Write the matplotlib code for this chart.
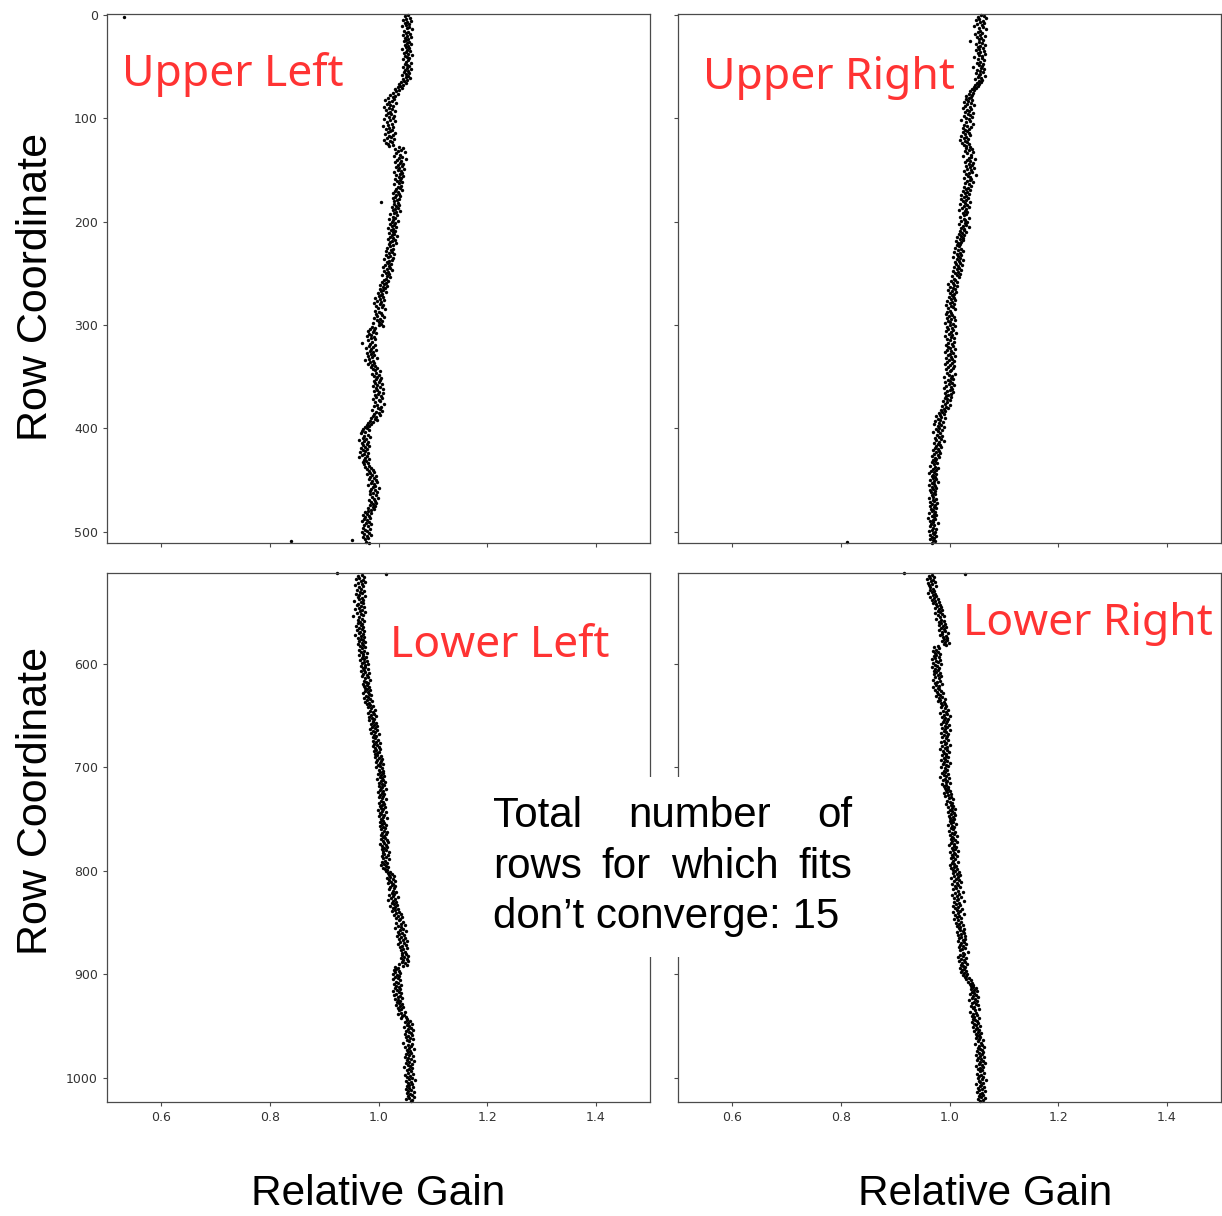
import numpy as np
import matplotlib.pyplot as plt
from matplotlib.patches import Rectangle

# Relative gain per row, stored as (gain - 1) * 1000, one value per row
ul_gain_milli = [
    55, 49, -468, 58, 51, 46, 60, 53, 48, 56, 50, 44, 57, 52, 61, 47,
    54, 50, 58, 45, 53, 59, 49, 55, 51, 47, 57, 52, 60, 48, 54, 50,
    56, 44, 53, 58, 50, 47, 55, 61, 49, 52, 57, 46, 54, 51, 59, 48,
    53, 56, 45, 52, 60, 49, 54, 47, 57, 51, 43, 55, 50, 58, 46, 52,
    47, 42, 50, 38, 45, 40, 35, 44, 30, 38, 33, 27, 36, 22, 31, 26,
    18, 29, 12, 24, 20, 33, 15, 22, 27, 10, 19, 25, 14, 30, 21, 17,
    23, 13, 28, 19, 26, 11, 21, 31, 16, 24, 18, 9, 27, 20, 14, 25,
    22, 17, 30, 12, 26, 19, 23, 15, 28, 10, 21, 24, 13, 18, 27, 20,
    38, 45, 31, 42, 36, 48, 33, 40, 29, 44, 37, 50, 34, 41, 30, 39,
    46, 35, 43, 32, 38, 47, 36, 41, 28, 44, 39, 33, 45, 37, 42, 31,
    40, 34, 43, 37, 29, 41, 35, 39, 32, 44, 30, 36, 27, 38, 33, 40,
    31, 26, 37, 34, 29, 4, 35, 28, 38, 32, 25, 36, 30, 27, 39, 33,
    28, 22, 34, 26, 31, 19, 27, 35, 24, 30, 21, 29, 25, 33, 18, 27,
    23, 31, 26, 20, 29, 24, 34, 21, 27, 17, 30, 25, 22, 32, 19, 26,
    21, 16, 27, 23, 13, 25, 19, 29, 14, 22, 18, 26, 11, 24, 20, 15,
    17, 23, 12, 19, 9, 21, 15, 25, 11, 18, 14, 20, 7, 16, 22, 13,
    10, 18, 6, 14, 11, 3, 16, 8, 12, 2, 9, 5, 13, -1, 7, 4,
    0, 8, -6, 3, 11, -3, 5, -9, 2, 9, -4, 6, -1, 12, -7, 1,
    4, -5, 7, -2, 10, -8, 3, -3, 6, 0, -10, 5, 1, 8, -12, -6,
    -15, -8, -20, -11, -4, -17, -13, -22, -9, -14, -6, -19, -12, -30, -16, -7,
    -18, -11, -23, -14, -5, -16, -10, -21, -13, -8, -19, -12, -3, -17, -24, -11,
    -15, -9, -20, -12, -6, -14, -2, -10, -7, 2, -5, -12, 1, -8, -3, 5,
    -4, 3, -9, 0, -6, 6, -2, -11, 2, -5, 8, -3, -8, 1, 9, -1,
    -7, 4, -4, 7, -10, 0, 3, -6, 10, -2, -9, 5, -1, 2, -12, 6,
    -5, 1, -8, 3, -11, -4, -14, -7, -2, -16, -10, -19, -13, -22, -17, -25,
    -21, -28, -18, -30, -24, -33, -20, -27, -15, -29, -23, -35, -26, -19, -31, -22,
    -28, -17, -25, -32, -21, -29, -24, -34, -19, -26, -30, -22, -36, -25, -18, -27,
    -23, -29, -20, -26, -17, -24, -14, -21, -11, -18, -8, -15, -22, -12, -5, -16,
    -9, -17, -4, -12, -2, -14, -8, -19, -6, -11, 0, -13, -7, -16, -3, -10,
    -15, -5, -12, -1, -9, -18, -7, -13, -4, -10, -16, -6, -11, -20, -8, -14,
    -19, -25, -13, -22, -28, -17, -24, -15, -27, -21, -31, -18, -23, -14, -26, -20,
    -29, -16, -24, -21, -30, -18, -26, -13, -22, -28, -19, -25, -48, -162, -23, -17,
]
ur_gain_milli = [
    58, 63, 52, 67, 55, 49, 61, 57, 64, 51, 59, 45, 62, 54, 68, 56,
    53, 60, 47, 57, 65, 50, 58, 55, 62, 38, 54, 59, 49, 66, 56, 52,
    61, 55, 48, 63, 57, 52, 66, 54, 59, 46, 60, 53, 64, 57, 50, 62,
    55, 59, 44, 58, 63, 51, 56, 61, 49, 57, 54, 65, 52, 58, 47, 60,
    54, 58, 50, 55, 47, 52, 45, 49, 41, 46, 38, 44, 35, 42, 31, 39,
    36, 30, 42, 34, 27, 39, 33, 45, 29, 37, 24, 40, 32, 36, 28, 43,
    34, 38, 26, 41, 31, 35, 22, 37, 30, 44, 27, 33, 39, 25, 36, 29,
    32, 24, 35, 28, 38, 21, 31, 26, 34, 19, 29, 33, 23, 36, 27, 30,
    37, 31, 42, 35, 28, 44, 33, 39, 25, 40, 36, 47, 32, 38, 29, 43,
    35, 41, 30, 37, 45, 33, 39, 27, 42, 36, 31, 48, 34, 38, 26, 40,
    37, 32, 43, 29, 35, 40, 27, 34, 31, 38, 24, 33, 29, 36, 22, 30,
    27, 34, 21, 31, 25, 38, 28, 19, 32, 26, 35, 23, 30, 17, 29, 33,
    24, 31, 27, 20, 36, 26, 29, 22, 33, 28, 18, 30, 25, 35, 21, 27,
    26, 20, 30, 23, 17, 27, 21, 14, 25, 19, 24, 12, 22, 16, 20, 13,
    18, 11, 22, 15, 24, 9, 19, 13, 21, 16, 7, 20, 14, 25, 17, 10,
    19, 12, 23, 15, 8, 18, 13, 21, 6, 16, 11, 20, 14, 4, 17, 9,
    10, 3, 13, 6, -2, 9, 14, 1, 7, 11, -3, 5, 12, 0, 8, 4,
    6, -1, 9, 2, 11, -4, 5, 0, 8, -6, 3, 7, -2, 10, 1, -5,
    2, -7, 5, -1, 8, -4, 3, 10, -3, 1, -8, 6, 0, 11, -5, 4,
    -2, 7, -6, 3, 12, -1, 5, -9, 2, 8, -4, 0, 9, -3, 4, -7,
    6, -2, 1, 10, -5, 3, -8, 7, 0, -3, 11, 2, -6, 5, -1, 8,
    -4, 4, -9, 1, 9, -2, 6, -7, 3, 0, -5, 10, -1, 4, -10, 2,
    7, -3, 1, -8, 5, -1, 9, -6, 2, -11, 4, 0, -4, 6, -9, 3,
    -2, -6, 2, -9, -4, 1, -12, -5, -8, 0, -14, -7, -3, -11, -16, -9,
    -13, -20, -10, -17, -24, -15, -8, -21, -18, -26, -12, -19, -28, -16, -22, -11,
    -19, -25, -14, -21, -30, -17, -23, -13, -20, -27, -16, -24, -11, -19, -29, -22,
    -18, -24, -15, -26, -21, -31, -19, -25, -17, -28, -22, -33, -20, -27, -24, -30,
    -26, -32, -23, -29, -36, -27, -21, -31, -25, -34, -28, -38, -24, -30, -33, -27,
    -31, -25, -35, -28, -22, -33, -29, -37, -26, -32, -24, -30, -36, -27, -34, -29,
    -26, -33, -30, -38, -24, -31, -28, -35, -23, -32, -27, -36, -29, -25, -34, -30,
    -33, -27, -37, -29, -24, -32, -28, -39, -26, -31, -35, -30, -22, -34, -28, -36,
    -30, -25, -33, -38, -27, -31, -29, -36, -24, -32, -28, -35, -30, -26, -188, -33,
]
ll_gain_milli = [
    -76, 13, -30, -38, -27, -35, -41, -29, -33, -24, -37, -31, -44, -28, -36, -32,
    -39, -26, -34, -30, -42, -35, -25, -38, -31, -36, -28, -45, -33, -29, -37, -40,
    -32, -27, -36, -43, -30, -34, -24, -39, -33, -29, -47, -35, -31, -38, -26, -34,
    -37, -30, -33, -41, -28, -35, -31, -39, -26, -34, -36, -29, -43, -32, -27, -38,
    -33, -29, -36, -25, -31, -38, -28, -34, -24, -30, -35, -27, -32, -22, -29, -36,
    -28, -23, -31, -26, -34, -21, -27, -30, -19, -25, -33, -24, -29, -20, -26, -32,
    -24, -18, -28, -22, -31, -20, -25, -16, -27, -23, -19, -29, -21, -26, -17, -24,
    -22, -15, -25, -19, -28, -18, -14, -23, -20, -27, -16, -21, -12, -24, -18, -22,
    -15, -10, -19, -13, -7, -16, -11, -20, -9, -14, -4, -17, -12, -8, -18, -10,
    -11, -5, -14, -8, -2, -12, -7, -15, -3, -10, -6, -13, 0, -9, -4, -11,
    -7, -1, -10, -4, 2, -8, -3, -11, 0, -6, 3, -5, -9, 1, -2, -7,
    -3, 4, -6, 1, 7, -2, 5, -4, 2, 8, -1, 3, -5, 6, 0, 9,
    2, 8, -1, 5, 11, 3, 7, -2, 9, 4, 12, 1, 6, 10, 0, 7,
    5, 13, 2, 8, -1, 6, 11, 3, 9, 0, 7, 14, 4, 8, 1, 10,
    6, 2, 12, 4, 9, -1, 7, 13, 3, 5, 10, 0, 8, 15, 4, 6,
    9, 3, 11, 6, 14, 2, 8, 12, 5, 10, 16, 7, 13, 4, 11, 9,
    12, 5, 15, 8, 18, 10, 3, 13, 7, 16, 11, 6, 14, 9, 19, 8,
    11, 17, 6, 13, 9, 20, 12, 7, 15, 10, 4, 14, 18, 9, 12, 16,
    14, 21, 17, 25, 19, 28, 22, 16, 26, 20, 30, 23, 18, 27, 24, 31,
    22, 28, 19, 26, 33, 24, 29, 20, 27, 35, 23, 30, 17, 26, 32, 25,
    28, 34, 22, 31, 27, 36, 30, 25, 38, 32, 41, 29, 35, 44, 33, 39,
    37, 45, 33, 41, 48, 36, 42, 31, 46, 39, 50, 35, 43, 38, 47, 34,
    42, 49, 38, 45, 52, 40, 47, 36, 51, 44, 39, 53, 46, 41, 48, 43,
    50, 44, 54, 47, 41, 52, 46, 55, 43, 49, 38, 53, 45, 30, 36, 33,
    29, 37, 31, 40, 27, 34, 38, 30, 35, 26, 39, 32, 36, 28, 41, 33,
    38, 30, 40, 34, 27, 37, 42, 33, 29, 39, 35, 44, 31, 36, 40, 34,
    37, 43, 32, 40, 46, 36, 42, 38, 48, 41, 35, 47, 44, 50, 42, 53,
    52, 58, 49, 55, 61, 53, 57, 47, 60, 54, 63, 51, 56, 59, 48, 62,
    55, 50, 58, 64, 53, 57, 46, 61, 54, 59, 49, 56, 65, 52, 58, 55,
    60, 51, 57, 63, 48, 55, 59, 53, 66, 56, 50, 61, 54, 58, 47, 62,
    57, 52, 60, 55, 64, 49, 58, 53, 61, 56, 67, 51, 59, 54, 62, 57,
    53, 63, 56, 50, 60, 55, 65, 52, 58, 61, 54, 66, 57, 51, 62, 59,
]
lr_gain_milli = [
    -83, 28, -33, -38, -29, -36, -41, -31, -34, -27, -39, -32, -37, -25, -35, -30,
    -36, -28, -33, -40, -26, -31, -24, -35, -29, -22, -32, -27, -20, -30, -25, -18,
    -23, -16, -26, -19, -13, -22, -17, -27, -14, -21, -10, -18, -24, -15, -11, -20,
    -16, -9, -19, -12, -6, -15, -11, -20, -8, -14, -3, -13, -17, -7, -12, -5,
    -10, -4, -14, -8, -1, -11, -6, -22, -28, -19, -25, -31, -21, -27, -17, -24,
    -29, -20, -26, -32, -18, -25, -22, -30, -16, -27, -23, -33, -19, -26, -21, -28,
    -24, -18, -29, -21, -15, -26, -20, -31, -17, -23, -27, -14, -25, -19, -30, -22,
    -20, -26, -16, -23, -12, -21, -18, -25, -13, -19, -9, -17, -22, -11, -15, -8,
    -13, -6, -16, -9, -2, -12, -7, -17, -4, -11, 0, -14, -8, -3, -10, -5,
    -12, -7, -15, -1, -9, -4, -13, -8, 1, -11, -6, -16, -3, -10, -5, -14,
    -7, -2, -11, -15, -6, -9, 0, -13, -4, -8, -17, -5, -12, -1, -10, -7,
    -14, -6, -3, -11, -8, -16, -4, -10, 1, -12, -7, -2, -15, -9, -5, -11,
    -8, -13, -3, -10, -6, -17, -1, -9, -12, -4, -7, 0, -14, -6, -11, -3,
    -9, -2, -7, 1, -5, -11, 3, -3, -8, 2, -1, 6, -4, 0, 5, -6,
    2, 7, -2, 5, 10, 0, 4, -3, 8, 3, 11, -1, 6, 1, 9, 4,
    0, 7, 3, 12, -2, 5, 9, 2, 6, -1, 10, 4, 8, 1, 13, 5,
    7, 2, 11, 5, 14, 3, 9, -1, 8, 12, 4, 10, 6, 15, 1, 8,
    10, 4, 13, 7, 2, 11, 6, 16, 5, 9, 0, 12, 8, 3, 14, 7,
    11, 17, 6, 14, 20, 9, 15, 3, 12, 18, 8, 22, 13, 5, 16, 10,
    19, 12, 7, 15, 24, 11, 17, 4, 14, 21, 9, 16, 13, 26, 8, 18,
    12, 20, 6, 15, 10, 23, 14, 19, 7, 16, 27, 11, 17, 13, 21, 9,
    15, 22, 12, 18, 25, 14, 20, 17, 27, 19, 24, 13, 26, 21, 16, 28,
    22, 18, 29, 24, 15, 26, 21, 31, 20, 25, 17, 28, 23, 19, 34, 24,
    27, 20, 25, 16, 30, 22, 26, 18, 29, 23, 32, 21, 24, 28, 19, 26,
    23, 30, 21, 27, 33, 25, 31, 28, 36, 30, 39, 34, 41, 37, 44, 40,
    43, 48, 39, 46, 51, 42, 45, 37, 49, 44, 53, 41, 47, 36, 50, 45,
    42, 48, 52, 40, 46, 43, 55, 47, 38, 49, 44, 51, 41, 46, 54, 43,
    47, 50, 42, 53, 46, 49, 56, 44, 51, 48, 55, 45, 52, 58, 49, 54,
    51, 57, 48, 55, 61, 53, 58, 47, 60, 54, 64, 52, 56, 59, 50, 62,
    55, 60, 49, 57, 63, 53, 58, 51, 61, 56, 66, 54, 59, 48, 62, 57,
    53, 60, 56, 64, 50, 58, 55, 62, 52, 59, 67, 54, 57, 61, 49, 58,
    56, 63, 52, 59, 55, 65, 51, 60, 57, 62, 54, 58, 66, 53, 61, 56,
]

panel_names = ['Upper Left', 'Upper Right', 'Lower Left', 'Lower Right']
first_row = [0, 0, 512, 512]
x_ticks = [0.6, 0.8, 1.0, 1.2, 1.4]
upper_y_ticks = [0, 100, 200, 300, 400, 500]
lower_y_ticks = [600, 700, 800, 900, 1000]
note_lines = ['Total number of', 'rows for which fits', 'don\u2019t converge: 15']

W, H = 1222, 1216
fig = plt.figure(figsize=(W / 100, H / 100), dpi=100)


def px_axes(x0, y0, x1, y1):
    return fig.add_axes([x0 / W, 1 - y1 / H, (x1 - x0) / W, (y1 - y0) / H])


axes = [px_axes(107, 14, 650, 543), px_axes(678, 14, 1221, 543),
        px_axes(107, 573, 650, 1102), px_axes(678, 573, 1221, 1102)]
gains = [ul_gain_milli, ur_gain_milli, ll_gain_milli, lr_gain_milli]

for i, (ax, g) in enumerate(zip(axes, gains)):
    rel_gain = 1 + np.array(g) / 1000
    rows = first_row[i] + np.arange(len(g))
    ax.scatter(rel_gain, rows, s=6, c='black', linewidths=0, clip_on=False)
    ax.set_xlim(0.5, 1.5)
    ax.set_xticks(x_ticks)
    if i < 2:
        ax.set_ylim(511, -1)
        ax.set_yticks(upper_y_ticks)
        ax.tick_params(labelbottom=False)
    else:
        ax.set_ylim(1023.5, 512)
        ax.set_yticks(lower_y_ticks)
    if i % 2 == 1:
        ax.tick_params(labelleft=False)
    ax.tick_params(length=3, width=0.8, color='#4a4a4a', labelsize=9, labelcolor='#333333')
    for sp in ax.spines.values():
        sp.set_color('#4a4a4a')
        sp.set_linewidth(0.9)

# red panel labels
red = '#ff3333'
label_pos = [(122, 86), (703, 89), (390, 657), (963, 635)]
for name, (x, y) in zip(panel_names, label_pos):
    fig.text(x / W, 1 - y / H, name, color=red, fontsize=32, family='Noto Sans',
             ha='left', va='baseline', zorder=6)

# axis titles
for yc in (287, 801):
    fig.text(36 / W, 1 - yc / H, 'Row Coordinate', rotation=90, fontsize=31,
             family='Liberation Sans', ha='center', va='center')
fig.text(378 / W, 1 - 1205 / H, 'Relative Gain', fontsize=30.5,
         family='Liberation Sans', ha='center', va='baseline')
fig.text(985 / W, 1 - 1205 / H, 'Relative Gain', fontsize=30.5,
         family='Liberation Sans', ha='center', va='baseline')

# white note box with justified text
fig.patches.append(Rectangle((483 / W, 1 - 957 / H), (862 - 483) / W, (957 - 777) / H,
                             transform=fig.transFigure, facecolor='white',
                             edgecolor='none', zorder=5))
fig.canvas.draw()
renderer = fig.canvas.get_renderer()
left, right = 493, 852
for k, (line, base) in enumerate(zip(note_lines, [827, 878, 928])):
    words = line.split(' ')
    if k == len(note_lines) - 1:
        words = [line]
    texts = [fig.text(0, 1 - base / H, w, fontsize=30.3, family='Liberation Sans',
                      ha='left', va='baseline', zorder=6) for w in words]
    widths = [t.get_window_extent(renderer).width for t in texts]
    gap = (right - left - sum(widths)) / (len(words) - 1) if len(words) > 1 else 0
    x = left
    for t, w in zip(texts, widths):
        t.set_x(x / W)
        x += w + gap

fig.savefig('out.png', dpi=100)
